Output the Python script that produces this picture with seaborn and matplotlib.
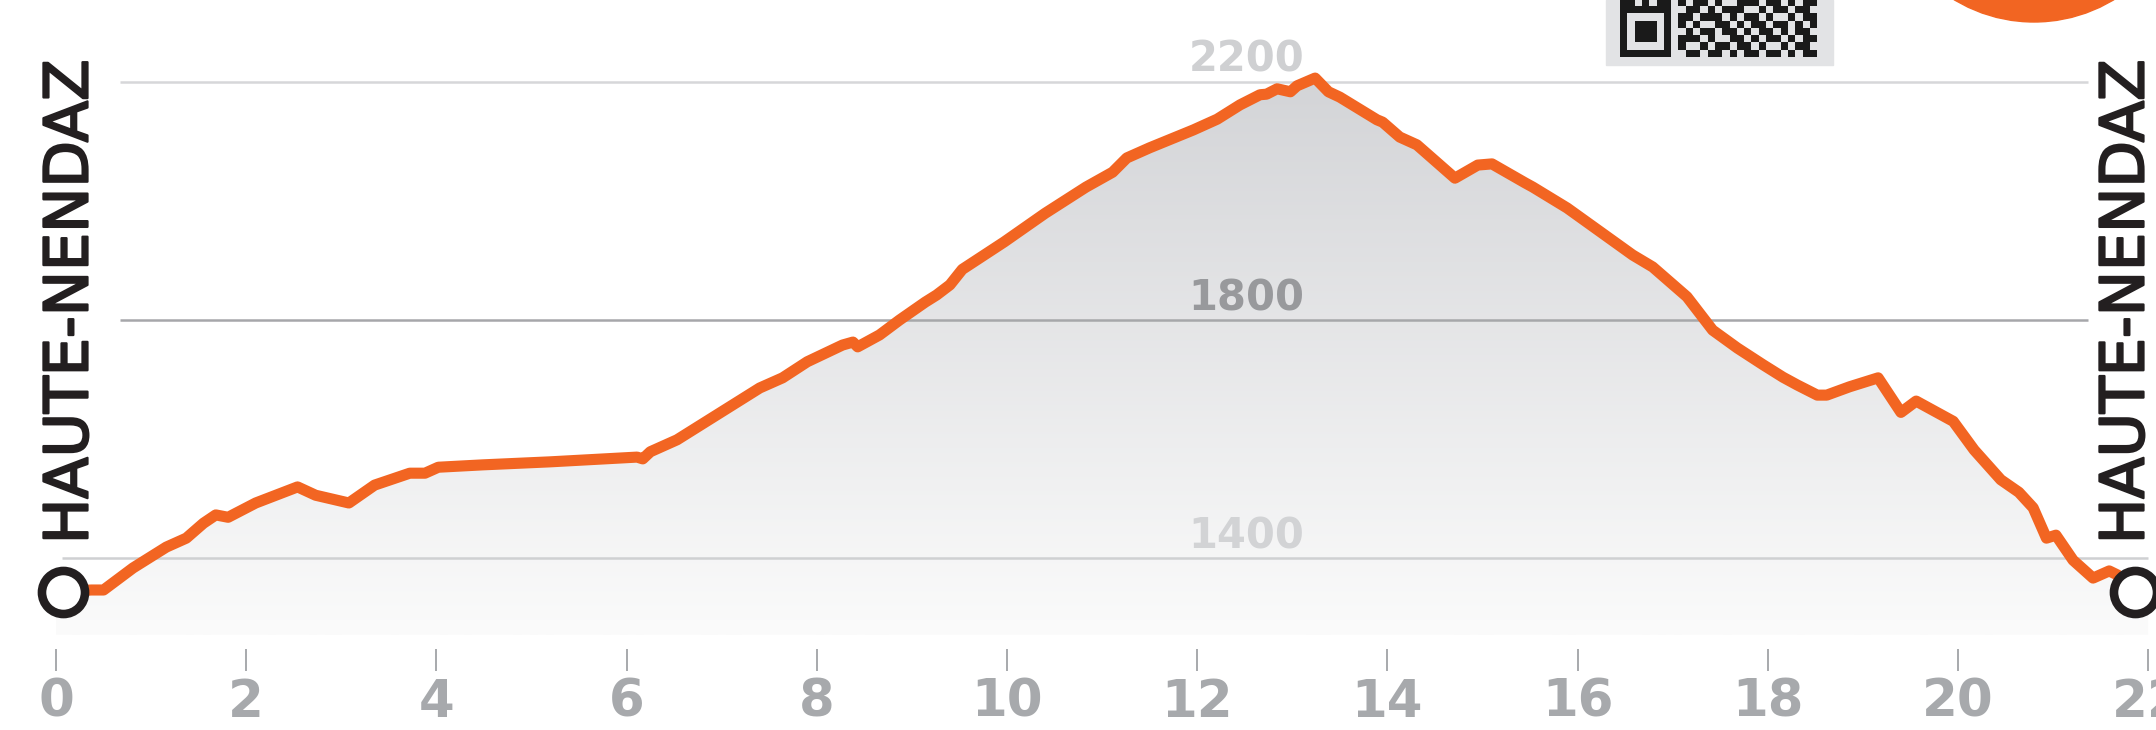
"""
Elevation profile of the Haute-Nendaz loop, redrawn with seaborn.

Usage:
    python plot.py
"""

import matplotlib

matplotlib.use("Agg")

import matplotlib.patheffects as pe
import matplotlib.pyplot as plt
import numpy as np
import seaborn as sns
from matplotlib.colors import LinearSegmentedColormap
from matplotlib.patches import Ellipse, Polygon, Rectangle

# ── data ──────────────────────────────────────────────────────
DIST_KM = [
    0.07, 0.37, 0.50, 0.81, 1.16, 1.37, 1.55, 1.68, 1.81, 2.10,
    2.54, 2.73, 3.08, 3.35, 3.72, 3.88, 4.02, 4.49, 5.19, 6.11,
    6.17, 6.25, 6.53, 6.95, 7.40, 7.64, 7.90, 8.27, 8.38, 8.43,
    8.66, 8.87, 9.14, 9.26, 9.40, 9.53, 9.97, 10.40, 10.83, 11.11,
    11.26, 11.50, 11.96, 12.21, 12.45, 12.66, 12.73, 12.84, 12.98, 13.05,
    13.24, 13.38, 13.50, 13.89, 13.95, 14.13, 14.31, 14.71, 14.95, 15.10,
    15.45, 15.53, 15.89, 16.58, 16.79, 17.15, 17.42, 17.68, 17.95, 18.16,
    18.31, 18.52, 18.62, 18.86, 19.16, 19.40, 19.56, 19.95, 20.17, 20.45,
    20.64, 20.79, 20.93, 21.03, 21.21, 21.42, 21.59, 21.68, 21.86,
]
ELEV_M = [
    1344, 1347, 1347, 1384, 1419, 1434, 1459, 1473, 1469, 1493,
    1520, 1506, 1493, 1523, 1543, 1543, 1553, 1557, 1562, 1570,
    1567, 1579, 1599, 1641, 1686, 1703, 1730, 1758, 1763, 1755,
    1775, 1800, 1830, 1842, 1859, 1885, 1931, 1979, 2023, 2048,
    2072, 2089, 2119, 2137, 2161, 2178, 2179, 2188, 2183, 2193,
    2206, 2183, 2174, 2136, 2132, 2107, 2094, 2038, 2060, 2062,
    2030, 2023, 1988, 1909, 1889, 1839, 1783, 1753, 1725, 1704,
    1691, 1674, 1674, 1688, 1703, 1645, 1664, 1630, 1582, 1532,
    1511, 1485, 1434, 1439, 1397, 1367, 1379, 1372, 1344,
]
KM_TICKS = list(range(0, 23, 2))
GRID_ELEV = [1400, 1800, 2200]
PLACE = "HAUTE-NENDAZ"

# ── styling ───────────────────────────────────────────────────
W, H, DPI = 2156, 730, 100
ORANGE = "#f26522"
INK = "#231f20"
TICK_GREY = "#a7a9ac"
GRID_COLORS = {1400: "#cfd0d2", 1800: "#a6a7aa", 2200: "#d6d7d9"}
LABEL_COLORS = {1400: "#d2d3d5", 1800: "#98999c", 2200: "#cfd0d2"}
FILL_FLOOR = 1271

QR_ROWS = [
    "110101101011010011101101011",
    "111111100110101110010110110",
    "100000101101110101101001011",
    "101110101010011010110110101",
    "101110100101101101011010110",
    "101110101110100110101101011",
    "100000101001011011010010110",
    "111111100110110101101101011",
]


def add_gradient_fill(ax):
    verts = ([(0, FILL_FLOOR), (0, ELEV_M[0])]
             + list(zip(DIST_KM, ELEV_M))
             + [(22, ELEV_M[-1]), (22, FILL_FLOOR)])
    poly = Polygon(verts, closed=True, facecolor="none", edgecolor="none")
    ax.add_patch(poly)
    cmap = LinearSegmentedColormap.from_list("hill", ["#fbfbfb", "#d3d4d7"])
    grad = np.linspace(1, 0, 256).reshape(-1, 1)
    img = ax.imshow(grad, extent=[0, 22, FILL_FLOOR, 2210], aspect="auto",
                    cmap=cmap, origin="upper", zorder=1)
    img.set_clip_path(poly)


def add_header_bits(fig):
    # orange badge, mostly cut off by the top edge
    fig.add_artist(Ellipse((2034 / W, 1 + 132 / H), 2 * 154 / W, 2 * 154 / H,
                           transform=fig.transFigure, color=ORANGE, zorder=5))
    # QR code stub
    fig.add_artist(Rectangle((1606 / W, 1 - 65 / H), 227 / W, 65 / H,
                             transform=fig.transFigure, color="#e2e3e5", zorder=5))
    m = 7.3
    for i, row in enumerate(QR_ROWS):
        top = 57 - (len(QR_ROWS) - i) * m
        for j, c in enumerate(row):
            if c == "1":
                fig.add_artist(Rectangle(((1620 + j * m) / W, 1 - (top + m) / H),
                                         m / W, m / H, transform=fig.transFigure,
                                         color="#1a1a1a", lw=0, zorder=6))


def main():
    sns.set_theme(style="white")
    plt.rcParams["font.family"] = ["DejaVu Sans"]

    fig = plt.figure(figsize=(W / DPI, H / DPI), dpi=DPI)
    fig.patch.set_facecolor("white")
    ax = fig.add_axes([0, 81 / H, 1, 649 / H])

    add_gradient_fill(ax)

    for g in GRID_ELEV:
        lo, hi = (0.06, 22.0) if g == 1400 else (0.67, 21.37)
        ax.hlines(g, lo, hi, color=GRID_COLORS[g], lw=1.8, zorder=2)
        ax.annotate(str(g), xy=(12.52, g), xytext=(0, 7), textcoords="offset points",
                    ha="center", va="baseline", fontsize=30, fontweight="bold",
                    color=LABEL_COLORS[g], zorder=2)

    sns.lineplot(x=DIST_KM, y=ELEV_M, ax=ax, color=ORANGE, zorder=3)
    profile = ax.lines[-1]
    profile.set_linewidth(8)
    profile.set_solid_capstyle("round")
    profile.set_solid_joinstyle("round")

    ax.plot([DIST_KM[0], DIST_KM[-1]], [ELEV_M[0], ELEV_M[-1]], ls="none",
            marker="o", ms=31, mew=6.2, mec=INK, mfc="white", zorder=4,
            clip_on=False)

    ax.set_xlim(-56 / 95.1, (W - 56) / 95.1)
    ax.set_ylim(1248, 2337)
    ax.set_xticks(KM_TICKS)
    ax.set_yticks([])
    ax.set_xlabel("")
    ax.set_ylabel("")
    sns.despine(ax=ax, left=True, bottom=True)
    ax.tick_params(axis="x", bottom=True, direction="out", length=15.8, width=1.4,
                   color=TICK_GREY, pad=5, labelsize=37, labelcolor=TICK_GREY)
    for lbl in ax.get_xticklabels():
        lbl.set_family(["Liberation Sans Narrow", "DejaVu Sans"])
        lbl.set_fontweight("bold")

    for xpx in (71, 2127):
        fig.text(xpx / W, 1 - 302 / H, PLACE, rotation=90, ha="center", va="center",
                 fontsize=43.5, color=INK,
                 path_effects=[pe.withStroke(linewidth=1.6, foreground=INK)])

    add_header_bits(fig)

    fig.savefig("out.png", dpi=DPI, facecolor="white")
    plt.close(fig)


if __name__ == "__main__":
    main()
